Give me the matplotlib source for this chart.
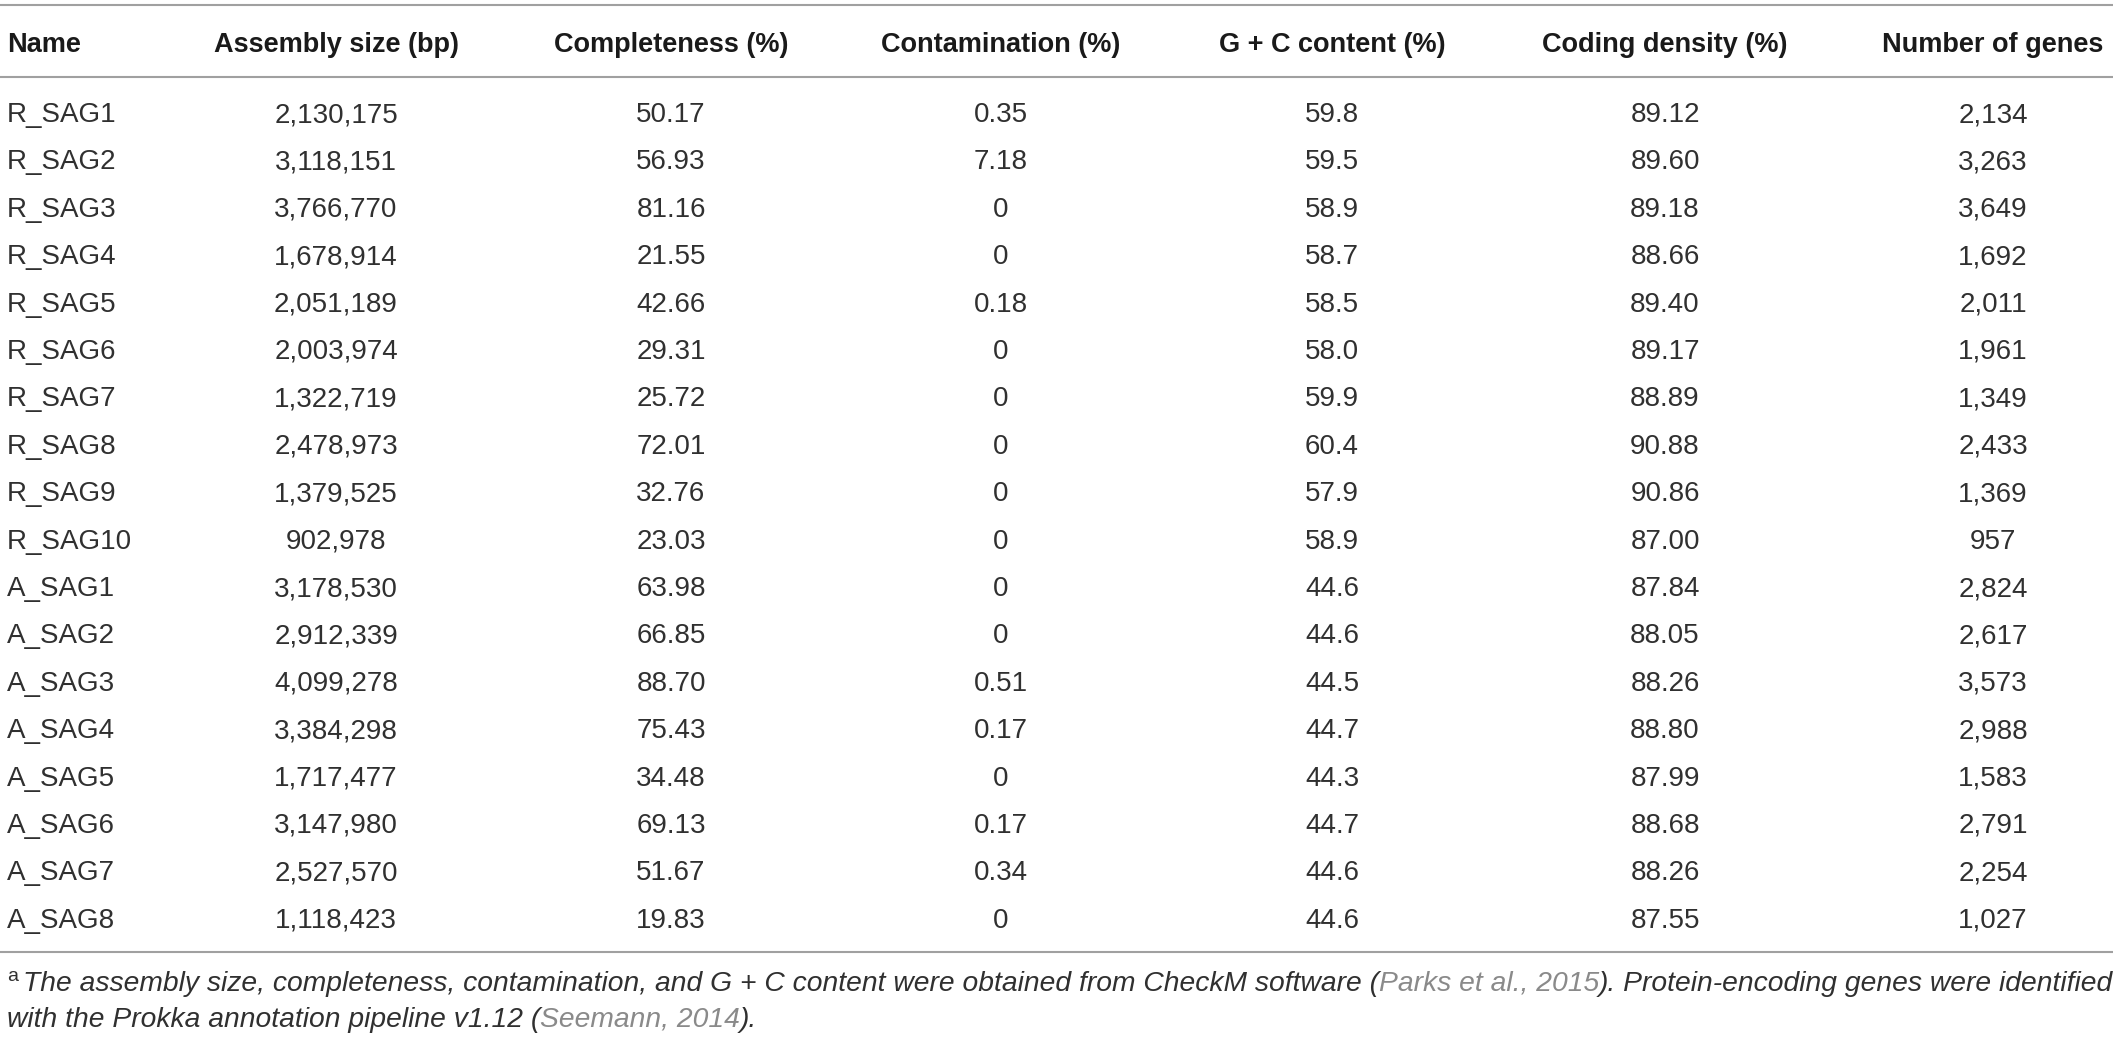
import matplotlib
matplotlib.use("Agg")
import matplotlib.pyplot as plt

# ---------------- data ----------------
names = ["R_SAG1", "R_SAG2", "R_SAG3", "R_SAG4", "R_SAG5", "R_SAG6", "R_SAG7",
         "R_SAG8", "R_SAG9", "R_SAG10", "A_SAG1", "A_SAG2", "A_SAG3", "A_SAG4",
         "A_SAG5", "A_SAG6", "A_SAG7", "A_SAG8"]
assembly_size = [2130175, 3118151, 3766770, 1678914, 2051189, 2003974, 1322719,
                 2478973, 1379525, 902978, 3178530, 2912339, 4099278, 3384298,
                 1717477, 3147980, 2527570, 1118423]
completeness = [50.17, 56.93, 81.16, 21.55, 42.66, 29.31, 25.72, 72.01, 32.76,
                23.03, 63.98, 66.85, 88.70, 75.43, 34.48, 69.13, 51.67, 19.83]
contamination = [0.35, 7.18, 0, 0, 0.18, 0, 0, 0, 0, 0, 0, 0, 0.51, 0.17, 0,
                 0.17, 0.34, 0]
gc_content = [59.8, 59.5, 58.9, 58.7, 58.5, 58.0, 59.9, 60.4, 57.9, 58.9, 44.6,
              44.6, 44.5, 44.7, 44.3, 44.7, 44.6, 44.6]
coding_density = [89.12, 89.60, 89.18, 88.66, 89.40, 89.17, 88.89, 90.88, 90.86,
                  87.00, 87.84, 88.05, 88.26, 88.80, 87.99, 88.68, 88.26, 87.55]
num_genes = [2134, 3263, 3649, 1692, 2011, 1961, 1349, 2433, 1369, 957, 2824,
             2617, 3573, 2988, 1583, 2791, 2254, 1027]
headers = ["Name", "Assembly size (bp)", "Completeness (%)", "Contamination (%)",
           "G + C content (%)", "Coding density (%)", "Number of genes"]
footnote_line1 = [
    ("The assembly size, completeness, contamination, and G + C content were obtained from CheckM software (", "dark"),
    ("Parks et al., 2015", "grey"),
    ("). Protein-encoding genes were identified", "dark"),
]
footnote_line2 = [
    ("with the Prokka annotation pipeline v1.12 (", "dark"),
    ("Seemann, 2014", "grey"),
    (").", "dark"),
]

# ---------------- formatting ----------------
def fmt_contam(v):
    return "0" if v == 0 else f"{v:.2f}"

columns = [
    names,
    [f"{v:,}" for v in assembly_size],
    [f"{v:.2f}" for v in completeness],
    [fmt_contam(v) for v in contamination],
    [f"{v:.1f}" for v in gc_content],
    [f"{v:.2f}" for v in coding_density],
    [f"{v:,}" for v in num_genes],
]

# ---------------- layout ----------------
W, H = 2118, 1040
fig = plt.figure(figsize=(W / 100, H / 100), dpi=100)
ax = fig.add_axes([0, 0, 1, 1])
ax.set_xlim(0, W)
ax.set_ylim(H, 0)
ax.axis("off")

FONT = "Liberation Sans"
dark = "#303030"
grey_txt = "#8a8a8a"
line_col = "#a0a0a0"

col_x = [7, 336, 671, 1001, 1332, 1665, 1993]
header_base = 52
row_base0 = 122
row_step = 47.4
line_ys = [5, 77, 952]

for y in line_ys:
    ax.plot([0, 2113], [y, y], color=line_col, lw=1.5, solid_capstyle="butt")

for j, h in enumerate(headers):
    ha = "left" if j == 0 else "center"
    ax.text(col_x[j], header_base, h, ha=ha, va="baseline", fontsize=19.5,
            fontweight="bold", family=FONT, color="#1a1a1a")

for j, col in enumerate(columns):
    ha = "left" if j == 0 else "center"
    for i, s in enumerate(col):
        ax.text(col_x[j], row_base0 + row_step * i, s, ha=ha, va="baseline",
                fontsize=20, family=FONT, color=dark)

# ---------------- footnote ----------------
renderer = fig.canvas.get_renderer()
colors = {"dark": dark, "grey": grey_txt}

def draw_line(pieces, x0, y, size):
    x = x0
    for s, c in pieces:
        t = ax.text(x, y, s, ha="left", va="baseline", fontsize=size,
                    fontstyle="italic", family=FONT, color=colors[c])
        bb = t.get_window_extent(renderer)
        x += bb.width
    return x

# superscript marker
ax.text(7, 981, "a", ha="left", va="baseline", fontsize=14, family=FONT, color=dark)

# fit footnote line 1 to the table width
size = 19.0
probe = ax.text(0, 0, "".join(s for s, _ in footnote_line1), fontsize=size,
                fontstyle="italic", family=FONT)
wpx = probe.get_window_extent(renderer).width
probe.remove()
target = 2110 - 23
size = size * target / wpx
draw_line(footnote_line1, 23, 991, size)
draw_line(footnote_line2, 7, 1027, size)

fig.savefig("out.png", dpi=100)
